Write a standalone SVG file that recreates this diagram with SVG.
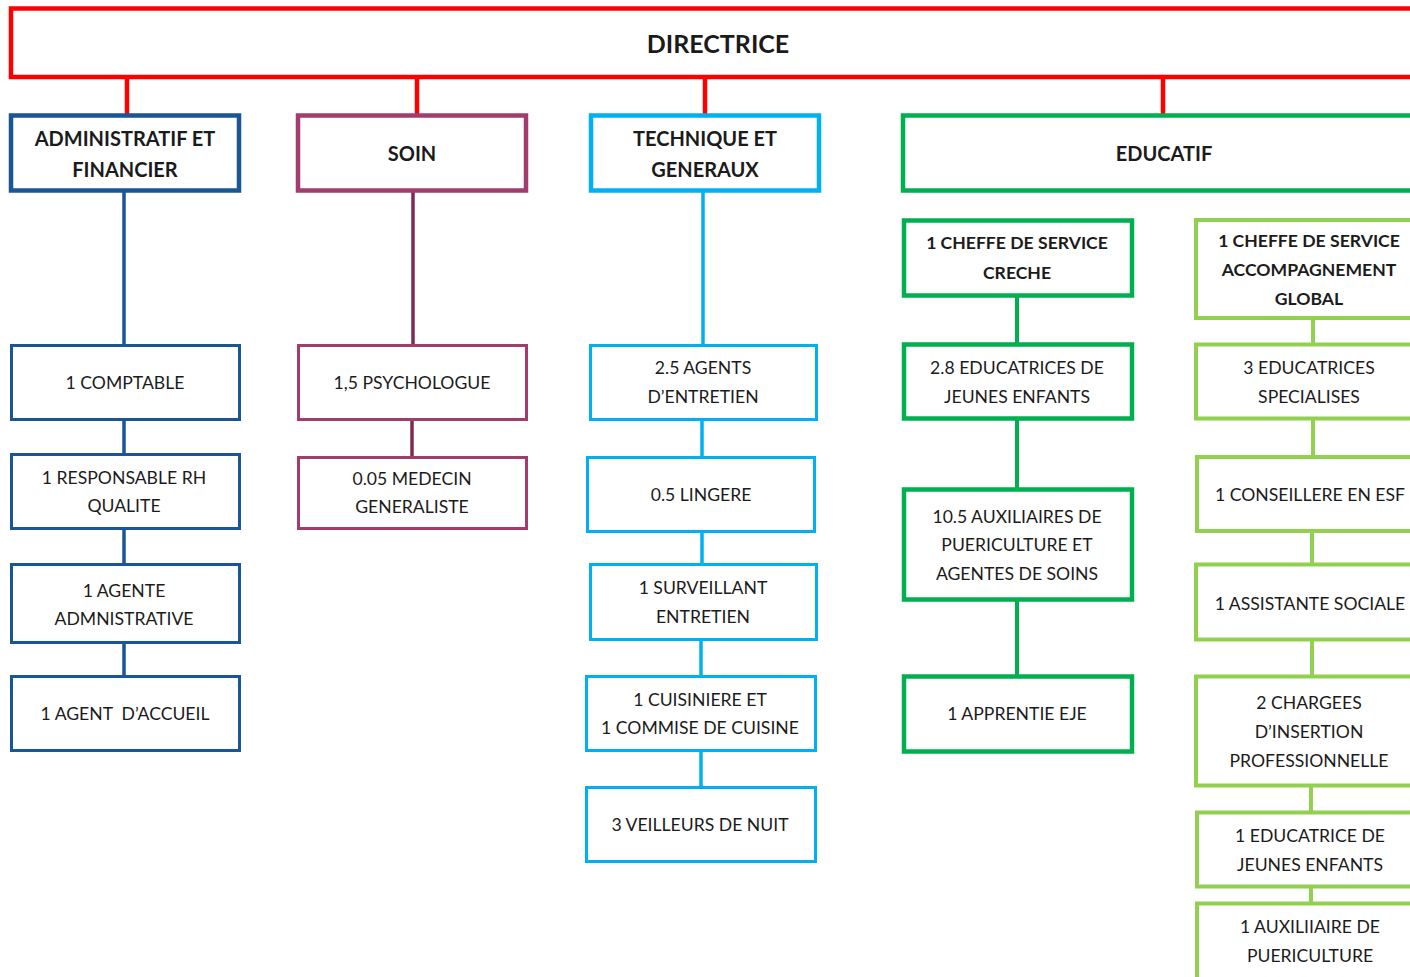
<svg xmlns="http://www.w3.org/2000/svg" width="1410" height="977" viewBox="0 0 1410 977">
<style>
text{font-family:Lato,"Open Sans","Liberation Sans",sans-serif;fill:#1b1b1b;text-anchor:middle}
.h{font-weight:bold;font-size:20px}
.t{font-size:17.6px}
.tb{font-size:17.6px;font-weight:bold}
rect{fill:#fff}
.red{stroke:#ff0000;stroke-width:4.5}
.blue{stroke:#1a5596}
.purp{stroke:#a23c6c}
.cyan{stroke:#00b0f0}
.green{stroke:#00b050}
.lgreen{stroke:#92d050}
.hd{stroke-width:4.5}
.bx{stroke-width:3}
.gx{stroke-width:4.5}
.lx{stroke-width:4}
line{fill:none}
</style>
<g id="connectors">
<line class="red" x1="127" y1="78" x2="127" y2="115"/>
<line class="red" x1="417" y1="78" x2="417" y2="115"/>
<line class="red" x1="705" y1="78" x2="705" y2="115"/>
<line class="red" x1="1163" y1="78" x2="1163" y2="115"/>
<g class="blue" stroke-width="3.5">
<line x1="124" y1="192" x2="124" y2="345"/>
<line x1="124" y1="420" x2="124" y2="454"/>
<line x1="124" y1="529" x2="124" y2="564"/>
<line x1="124" y1="643" x2="124" y2="676"/>
</g>
<g stroke="#7b2c55" stroke-width="3.5">
<line x1="413" y1="192" x2="413" y2="345"/>
<line x1="412" y1="420" x2="412" y2="457"/>
</g>
<g class="cyan" stroke-width="3.5">
<line x1="703" y1="192" x2="703" y2="345"/>
<line x1="702" y1="420" x2="702" y2="457"/>
<line x1="702" y1="532" x2="702" y2="564"/>
<line x1="701" y1="640" x2="701" y2="676"/>
<line x1="701" y1="751" x2="701" y2="787"/>
</g>
<g class="green" stroke-width="4">
<line x1="1017" y1="296" x2="1017" y2="344"/>
<line x1="1017" y1="419" x2="1017" y2="489"/>
<line x1="1017" y1="600" x2="1017" y2="676"/>
</g>
<g class="lgreen" stroke-width="4">
<line x1="1313" y1="318" x2="1313" y2="344"/>
<line x1="1313" y1="419" x2="1313" y2="457"/>
<line x1="1312" y1="531" x2="1312" y2="564"/>
<line x1="1312" y1="640" x2="1312" y2="676"/>
<line x1="1311" y1="786" x2="1311" y2="812"/>
<line x1="1311" y1="887" x2="1311" y2="903"/>
</g>
</g>
<g id="directrice">
<rect class="red" x="11" y="8.5" width="1420" height="68.5"/>
<text x="718" y="53" font-weight="bold" font-size="25">DIRECTRICE</text>
</g>
<g id="admin">
<rect class="blue hd" x="11" y="115.5" width="228" height="75"/>
<text class="h" x="125" y="146">ADMINISTRATIF ET</text>
<text class="h" x="125" y="177">FINANCIER</text>
</g>
<g id="soin">
<rect class="purp hd" x="298" y="115.5" width="228" height="75" stroke="#9b3b6b"/>
<text class="h" x="412" y="161">SOIN</text>
</g>
<g id="technique">
<rect class="cyan hd" x="591" y="115.5" width="228" height="75"/>
<text class="h" x="705" y="146">TECHNIQUE ET</text>
<text class="h" x="705" y="177">GENERAUX</text>
</g>
<g id="educatif">
<rect class="green hd" x="903" y="115.5" width="530" height="75"/>
<text class="h" x="1164" y="161">EDUCATIF</text>
</g>
<g id="comptable">
<rect class="blue bx" x="11.5" y="345.5" width="228" height="74"/>
<text class="t" x="125" y="389">1 COMPTABLE</text>
</g>
<g id="rh">
<rect class="blue bx" x="11.5" y="454.5" width="228" height="74"/>
<text class="t" x="124" y="484">1 RESPONSABLE RH</text>
<text class="t" x="124" y="512">QUALITE</text>
</g>
<g id="agente">
<rect class="blue bx" x="11.5" y="564.5" width="228" height="78"/>
<text class="t" x="124" y="597">1 AGENTE</text>
<text class="t" x="124" y="625">ADMNISTRATIVE</text>
</g>
<g id="accueil">
<rect class="blue bx" x="11.5" y="676.5" width="228" height="74"/>
<text class="t" x="125" y="720" xml:space="preserve">1 AGENT  D’ACCUEIL</text>
</g>
<g id="psychologue">
<rect class="purp bx" x="298.5" y="345.5" width="228" height="74"/>
<text class="t" x="412" y="389">1,5 PSYCHOLOGUE</text>
</g>
<g id="medecin">
<rect class="purp bx" x="298.5" y="457.5" width="228" height="71"/>
<text class="t" x="412" y="485">0.05 MEDECIN</text>
<text class="t" x="412" y="513">GENERALISTE</text>
</g>
<g id="entretien">
<rect class="cyan bx" x="590.5" y="345.5" width="226" height="74"/>
<text class="t" x="703" y="374">2.5 AGENTS</text>
<text class="t" x="703" y="403">D’ENTRETIEN</text>
</g>
<g id="lingere">
<rect class="cyan bx" x="587.5" y="457.5" width="227" height="74"/>
<text class="t" x="701" y="501">0.5 LINGERE</text>
</g>
<g id="surveillant">
<rect class="cyan bx" x="590.5" y="564.5" width="226" height="75"/>
<text class="t" x="703" y="594">1 SURVEILLANT</text>
<text class="t" x="703" y="623">ENTRETIEN</text>
</g>
<g id="cuisine">
<rect class="cyan bx" x="586.5" y="676.5" width="229" height="74"/>
<text class="t" x="700" y="706">1 CUISINIERE ET</text>
<text class="t" x="700" y="734">1 COMMISE DE CUISINE</text>
</g>
<g id="veilleurs">
<rect class="cyan bx" x="586.5" y="787.5" width="229" height="74"/>
<text class="t" x="700" y="831">3 VEILLEURS DE NUIT</text>
</g>
<g id="cheffe-creche">
<rect class="green gx" x="904" y="220.5" width="228" height="75"/>
<text class="tb" x="1017" y="249">1 CHEFFE DE SERVICE</text>
<text class="tb" x="1017" y="279">CRECHE</text>
</g>
<g id="eje">
<rect class="green gx" x="904" y="344.5" width="228" height="74"/>
<text class="t" x="1017" y="374">2.8 EDUCATRICES DE</text>
<text class="t" x="1017" y="403">JEUNES ENFANTS</text>
</g>
<g id="auxiliaires">
<rect class="green gx" x="904" y="489.5" width="228" height="110"/>
<text class="t" x="1017" y="523">10.5 AUXILIAIRES DE</text>
<text class="t" x="1017" y="551">PUERICULTURE ET</text>
<text class="t" x="1017" y="580">AGENTES DE SOINS</text>
</g>
<g id="apprentie">
<rect class="green gx" x="904" y="676.5" width="228" height="75"/>
<text class="t" x="1017" y="720">1 APPRENTIE EJE</text>
</g>
<g id="cheffe-global">
<rect class="lgreen lx" x="1196" y="220" width="240" height="98"/>
<text class="tb" x="1309" y="247">1 CHEFFE DE SERVICE</text>
<text class="tb" x="1309" y="276">ACCOMPAGNEMENT</text>
<text class="tb" x="1309" y="305">GLOBAL</text>
</g>
<g id="educ-spec">
<rect class="lgreen lx" x="1196" y="344.5" width="240" height="74"/>
<text class="t" x="1309" y="374">3 EDUCATRICES</text>
<text class="t" x="1309" y="403">SPECIALISES</text>
</g>
<g id="esf">
<rect class="lgreen lx" x="1197" y="457" width="240" height="74"/>
<text class="t" x="1310" y="501">1 CONSEILLERE EN ESF</text>
</g>
<g id="assistante">
<rect class="lgreen lx" x="1196" y="564.5" width="240" height="75"/>
<text class="t" x="1310" y="610">1 ASSISTANTE SOCIALE</text>
</g>
<g id="insertion">
<rect class="lgreen lx" x="1196" y="676.5" width="240" height="109"/>
<text class="t" x="1309" y="709">2 CHARGEES</text>
<text class="t" x="1309" y="738">D’INSERTION</text>
<text class="t" x="1309" y="767">PROFESSIONNELLE</text>
</g>
<g id="educ-jeunes">
<rect class="lgreen lx" x="1197" y="812.5" width="240" height="74"/>
<text class="t" x="1310" y="842">1 EDUCATRICE DE</text>
<text class="t" x="1310" y="871">JEUNES ENFANTS</text>
</g>
<g id="auxiliaire-puer">
<rect class="lgreen lx" x="1197" y="903.5" width="240" height="90"/>
<text class="t" x="1310" y="933">1 AUXILIIAIRE DE</text>
<text class="t" x="1310" y="962">PUERICULTURE</text>
</g>
</svg>
